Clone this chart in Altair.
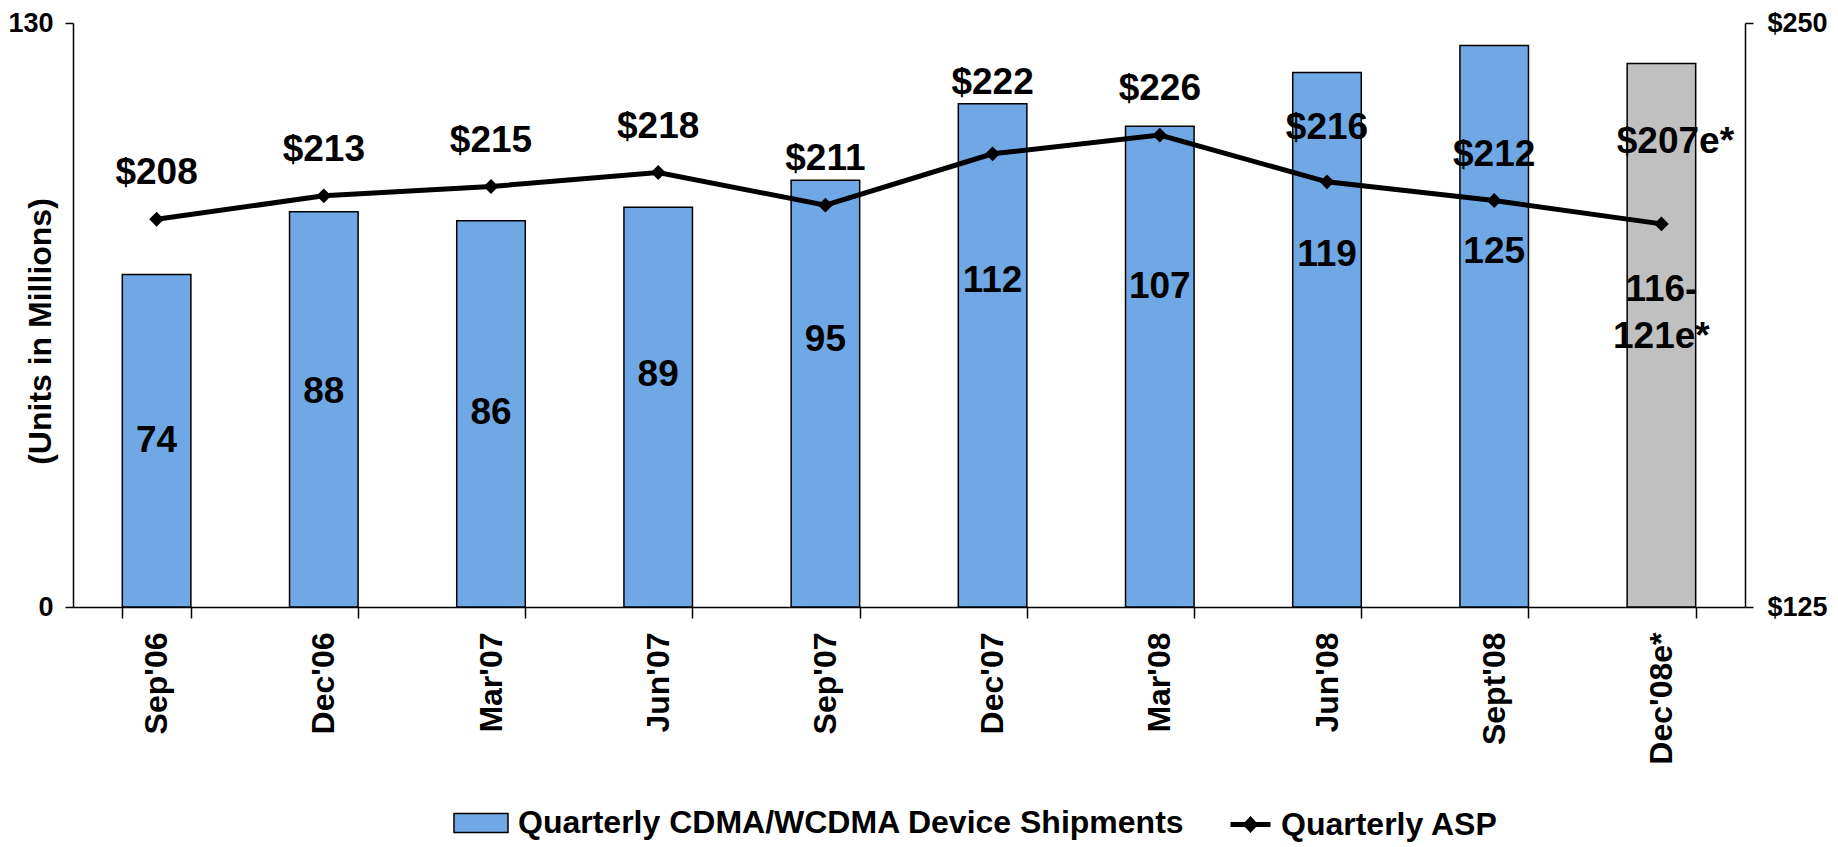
import altair as alt
import pandas as pd

FONT = "Liberation Sans"
BAR_SERIES = "Quarterly CDMA/WCDMA Device Shipments"
EST_SERIES = "Estimate"
LINE_SERIES = "Quarterly ASP"

quarters = ["Sep'06", "Dec'06", "Mar'07", "Jun'07", "Sep'07",
            "Dec'07", "Mar'08", "Jun'08", "Sept'08", "Dec'08e*"]
shipments = [74, 88, 86, 89, 95, 112, 107, 119, 125, 121]
shipment_labels = ["74", "88", "86", "89", "95", "112", "107", "119", "125", "116-\n121e*"]
shipment_label_at = [37, 47.8, 43.1, 51.7, 59.5, 72.6, 71.3, 78.3, 79.1, 70.5]
bar_kind = [BAR_SERIES] * 9 + [EST_SERIES]
asp = [208, 213, 215, 218, 211, 222, 226, 216, 212, 207]
asp_labels = ["$208", "$213", "$215", "$218", "$211", "$222", "$226", "$216", "$212", "$207e*"]

df = pd.DataFrame({
    "quarter": quarters,
    "shipments": shipments,
    "ship_label": shipment_labels,
    "label_at": shipment_label_at,
    "kind": bar_kind,
    "asp": asp,
    "asp_label": asp_labels,
    "series": [LINE_SERIES] * len(quarters),
})

base = alt.Chart(df)

x_axis = alt.Axis(
    title=None, labelAngle=-90, labelFontSize=32, labelFont=FONT, labelFontWeight="bold",
    labelColor="black", tickBand="extent", tickSize=11, tickColor="black", tickWidth=1.5,
    domainColor="black", domainWidth=1.5, labelPadding=14, grid=False,
)
x_scale = alt.Scale(paddingInner=0.59, paddingOuter=0.295)


def x_enc():
    return alt.X("quarter:N", sort=quarters, scale=x_scale, axis=x_axis)


left_scale = alt.Scale(domain=[0, 130], nice=False, zero=True)
right_scale = alt.Scale(domain=[125, 250], nice=False, zero=False)

left_axis = alt.Axis(
    values=[0, 130], grid=False, tickSize=8, tickColor="black", tickWidth=1.5,
    domainColor="black", domainWidth=1.5,
    labelFontSize=27, labelFont=FONT, labelFontWeight="bold", labelColor="black",
    labelPadding=12,
    title="(Units in Millions)", titleFontSize=32, titleFont=FONT, titleFontWeight="bold",
    titleColor="black", titleX=-33, titleY=308, titleBaseline="middle", titleAngle=270,
)
right_axis = alt.Axis(
    orient="right", values=[125, 250], grid=False, tickSize=8, tickColor="black",
    tickWidth=1.5, domainColor="black", domainWidth=1.5,
    labelFontSize=27, labelFont=FONT, labelFontWeight="bold", labelColor="black",
    labelPadding=14, labelExpr="'$' + datum.value", title="",
)

bars = base.mark_bar(stroke="black", strokeWidth=1.5).encode(
    x=x_enc(),
    y=alt.Y("shipments:Q", scale=left_scale, axis=left_axis),
    fill=alt.Fill("kind:N", scale=alt.Scale(domain=[BAR_SERIES, EST_SERIES],
                                             range=["#6FA8E4", "#C0C0C0"]),
                  legend=alt.Legend(
                      values=[BAR_SERIES], title=None, orient="none", legendX=380, legendY=772,
                      labelFontSize=32, labelFont=FONT, labelFontWeight="bold", labelColor="black",
                      symbolType="M-1,-0.35H1V0.35H-1Z", symbolSize=2916,
                      symbolStrokeColor="black", symbolStrokeWidth=1.5, labelOffset=9,
                      padding=0, labelLimit=1000,
                  )),
)

bar_text = base.mark_text(font=FONT, fontWeight="bold", fontSize=37, color="black",
                          baseline="middle", align="center", lineBreak="\n",
                          lineHeight=47).encode(
    x=x_enc(),
    y=alt.Y("label_at:Q", scale=left_scale, axis=left_axis),
    text="ship_label:N",
)

left = alt.layer(bars, bar_text)

line = base.mark_line(strokeWidth=5).encode(
    x=x_enc(),
    y=alt.Y("asp:Q", scale=right_scale, axis=right_axis),
    stroke=alt.Stroke("series:N", scale=alt.Scale(domain=[LINE_SERIES], range=["black"]),
                      legend=alt.Legend(
                          title=None, orient="none", legendX=1155, legendY=779,
                          labelFontSize=32, labelFont=FONT, labelFontWeight="bold",
                          labelColor="black",
                          symbolType="M-1,0H1M-0.22,0L0,-0.24L0.22,0L0,0.24Z", symbolSize=1600,
                          symbolStrokeColor="black", symbolFillColor="black",
                          symbolStrokeWidth=5, labelOffset=8, padding=0, labelLimit=1000,
                      )),
)

pts = base.mark_point(shape="diamond", filled=True, size=220, color="black", opacity=1).encode(
    x=x_enc(),
    y=alt.Y("asp:Q", scale=right_scale, axis=right_axis),
)


def asp_text(filter_expr, dy, dx=0):
    return base.transform_filter(filter_expr).mark_text(
        font=FONT, fontWeight="bold", fontSize=37, color="black",
        baseline="alphabetic", align="center", dy=dy, dx=dx,
    ).encode(
        x=x_enc(),
        y=alt.Y("asp:Q", scale=right_scale, axis=right_axis),
        text="asp_label:N",
    )


special = "indexof(['$222', '$216', '$207e*'], datum.asp_label) >= 0"
asp_normal = asp_text("!(" + special + ")", -35)
asp_222 = asp_text("datum.asp_label == '$222'", -60)
asp_216 = asp_text("datum.asp_label == '$216'", -43)
asp_207 = asp_text("datum.asp_label == '$207e*'", -71, 14)

right = alt.layer(line, pts, asp_normal, asp_222, asp_216, asp_207)

chart = alt.layer(left, right).resolve_scale(y="independent").properties(
    width=1672, height=584,
    autosize=alt.AutoSizeParams(type="none"),
    padding={"left": 65, "top": 15, "right": 85, "bottom": 235},
).configure(font=FONT).configure_view(stroke=None)

chart.save("out.html", embed_options={"renderer": "svg", "actions": False})
